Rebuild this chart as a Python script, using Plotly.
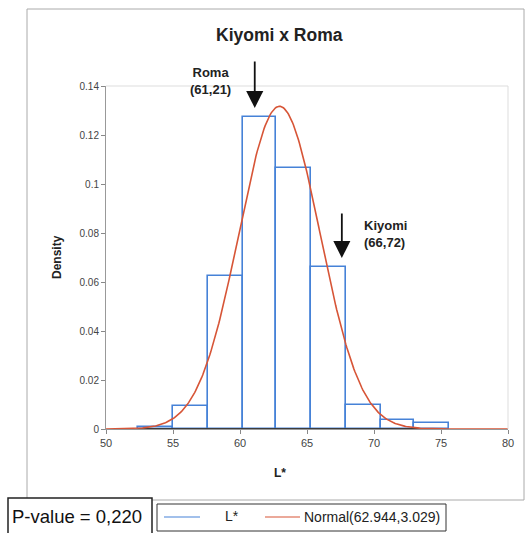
import numpy as np
import plotly.graph_objects as go

# ---- data ----
bin_edges = [52.4, 55.0, 57.6, 60.2, 62.7, 65.3, 67.9, 70.5, 73.0, 75.6]
densities = [0.001, 0.0094, 0.0626, 0.1275, 0.1065, 0.066, 0.0098, 0.0035, 0.0023]
norm_mean = 62.944
norm_sd = 3.029
x_ticks = [50, 55, 60, 65, 70, 75, 80]
y_ticks = [0, 0.02, 0.04, 0.06, 0.08, 0.1, 0.12, 0.14]
y_tick_text = ["0", "0.02", "0.04", "0.06", "0.08", "0.1", "0.12", "0.14"]
roma_point = (61.1, 0.131)
kiyomi_point = (67.6, 0.0698)

BLUE = "rgb(70,130,215)"
RED = "rgb(215,85,55)"

centers = [(a + b) / 2 for a, b in zip(bin_edges[:-1], bin_edges[1:])]
widths = [b - a for a, b in zip(bin_edges[:-1], bin_edges[1:])]

xs = np.linspace(50, 80, 400)
pdf = np.exp(-0.5 * ((xs - norm_mean) / norm_sd) ** 2) / (norm_sd * np.sqrt(2 * np.pi))

fig = go.Figure()
fig.add_trace(go.Bar(x=centers, y=densities, width=widths, name="L*",
                     marker=dict(color="rgba(0,0,0,0)", line=dict(color=BLUE, width=1.6)),
                     showlegend=False))
# dark baseline under histogram
fig.add_trace(go.Scatter(x=[bin_edges[0], 73.6], y=[0, 0], mode="lines",
                         line=dict(color="rgb(60,60,60)", width=2.2), showlegend=False,
                         hoverinfo="skip"))
fig.add_trace(go.Scatter(x=xs, y=pdf, mode="lines", name="Normal(62.944,3.029)",
                         line=dict(color=RED, width=1.6), showlegend=False))

L, R, T, B = 106, 17, 86, 104
W, H = 525, 533
pw, ph = W - L - R, H - T - B

def px2paper(px, py):
    return (px - L) / pw, (H - B - py) / ph

fig.update_layout(
    width=W, height=H,
    margin=dict(l=L, r=R, t=T, b=B),
    paper_bgcolor="white", plot_bgcolor="white",
    font=dict(family="Liberation Sans, Arial", color="#333"),
    bargap=0,
    showlegend=False,
)
fig.update_xaxes(range=[50, 80], tickvals=x_ticks, ticks="outside", ticklen=4,
                 tickcolor="#888", showline=True, linecolor="#999", linewidth=1,
                 showgrid=False, zeroline=False, tickfont=dict(size=11, color="#444"),
                 mirror=False)
fig.update_yaxes(range=[0, 0.14], tickvals=y_ticks, ticktext=y_tick_text, ticks="outside",
                 ticklen=4, tickcolor="#888", showline=True, linecolor="#999", linewidth=1,
                 showgrid=False, zeroline=False, tickfont=dict(size=10, color="#444"))

shapes = []
# plot area faint top/right border
shapes.append(dict(type="line", xref="paper", yref="paper", x0=0, x1=1, y0=1, y1=1,
                   line=dict(color="#ddd", width=1)))
shapes.append(dict(type="line", xref="paper", yref="paper", x0=1, x1=1, y0=0, y1=1,
                   line=dict(color="#ddd", width=1)))
# outer chart border
x0, y0 = px2paper(27, 9)
x1, y1 = px2paper(524, 500)
shapes.append(dict(type="rect", xref="paper", yref="paper", x0=x0, y0=y1, x1=x1, y1=y0,
                   line=dict(color="#aaa", width=1)))
# P-value box
a0, b0 = px2paper(8, 498)
a1, b1 = px2paper(152, 540)
shapes.append(dict(type="rect", xref="paper", yref="paper", x0=a0, y0=b1, x1=a1, y1=b0,
                   line=dict(color="#222", width=1.5), fillcolor="white"))
# legend box
c0, d0 = px2paper(157, 504)
c1, d1 = px2paper(446, 531)
shapes.append(dict(type="rect", xref="paper", yref="paper", x0=c0, y0=d1, x1=c1, y1=d0,
                   line=dict(color="#333", width=1), fillcolor="white"))
# legend line samples
for (lx0, lx1, col) in [(164, 200, BLUE), (265, 300, RED)]:
    e0, f0 = px2paper(lx0, 517)
    e1, _ = px2paper(lx1, 517)
    shapes.append(dict(type="line", xref="paper", yref="paper", x0=e0, x1=e1, y0=f0, y1=f0,
                       line=dict(color=col, width=1.2)))
fig.update_layout(shapes=shapes)

def label(text, px, py, size, xanchor="center", **kw):
    tx, ty = px2paper(px, py)
    return dict(text=text, xref="paper", yref="paper", x=tx, y=ty, xanchor=xanchor,
                yanchor="middle", showarrow=False, font=dict(size=size, color="#222"), **kw)

ann = []
ann.append(label("<b>Kiyomi x Roma</b>", 279, 35, 17.5))
ann.append(label("<b>L*</b>", 280, 473, 12))
ann.append(label("<b>Density</b>", 57, 257, 12, textangle=-90))
ann.append(label("<b>Roma<br>(61,21)</b>", 210, 81, 13))
ann.append(label("<b>Kiyomi<br>(66,72)</b>", 362, 234, 13, xanchor="left", align="left"))
# arrows
ann.append(dict(x=roma_point[0], y=roma_point[1], xref="x", yref="y", ax=0, ay=-48,
                text="", showarrow=True, arrowhead=2, arrowsize=1.9, arrowwidth=1.8,
                arrowcolor="#111"))
ann.append(dict(x=kiyomi_point[0], y=kiyomi_point[1], xref="x", yref="y", ax=0, ay=-46,
                text="", showarrow=True, arrowhead=2, arrowsize=1.9, arrowwidth=1.8,
                arrowcolor="#111"))
# P-value text
pv = label("P-value = 0,220", 10, 516, 18.5, xanchor="left")
pv["font"]["color"] = "#111"
ann.append(pv)
# legend texts
ann.append(label("L*", 232, 516, 14))
ann.append(label("Normal(62.944,3.029)", 302, 517, 14, xanchor="left"))
fig.update_layout(annotations=ann)

fig.write_html("out.html")
